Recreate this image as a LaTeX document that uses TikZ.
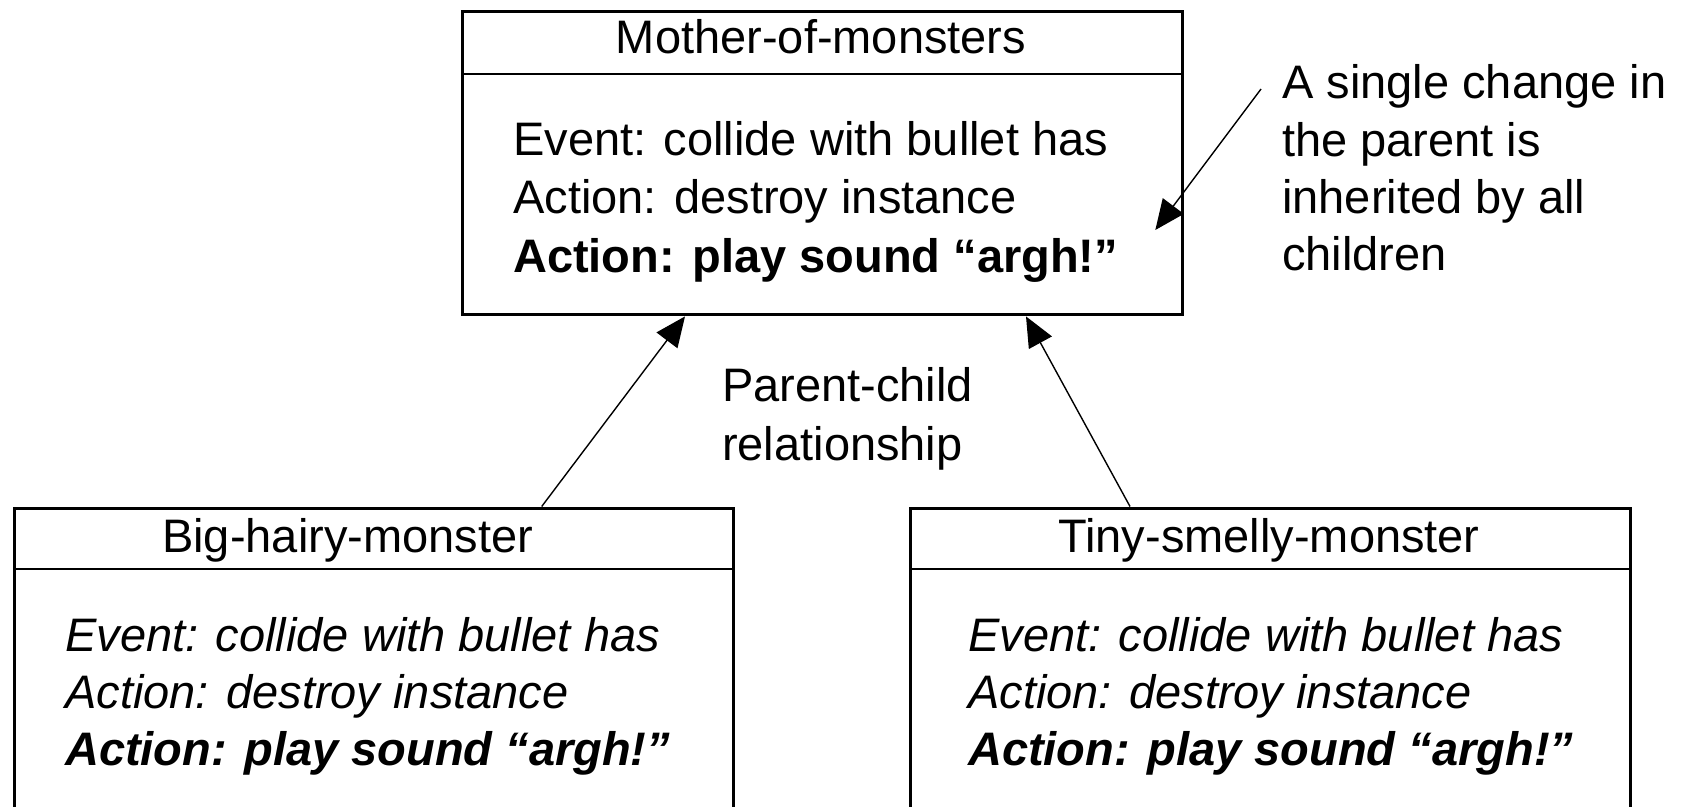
\documentclass[tikz,border=0pt]{standalone}
\usepackage{fontspec}
\setmainfont{Liberation Sans}
\usetikzlibrary{arrows.meta}
\begin{document}
\begin{tikzpicture}[x=1pt,y=-1pt,
  box/.style={draw,line width=3.4pt,inner sep=0pt,anchor=north west},
  divline/.style={line width=1.6pt},
  txt/.style={inner sep=0pt,anchor=base west,font=\fontsize{47}{57.5}\selectfont},
  ttl/.style={inner sep=0pt,anchor=base,font=\fontsize{47}{57.5}\selectfont},
  conn/.style={line width=1.4pt,-{Triangle[length=30pt,width=26pt]}}
]
\useasboundingbox (0,0) rectangle (1688,806);
\clip (0,0) rectangle (1688,806);
\fill[white] (0,0) rectangle (1688,806);

% boxes
\node[box,minimum width=720pt,minimum height=303pt] (mom) at (461,10) {};
\node[box,minimum width=719pt,minimum height=330pt] (big) at (13,506.5) {};
\node[box,minimum width=720pt,minimum height=330pt] (tiny) at (909,506.5) {};

% dividers
\draw[divline] (mom.west |- 0,74) -- (mom.east |- 0,74);
\draw[divline] (big.west |- 0,569) -- (big.east |- 0,569);
\draw[divline] (tiny.west |- 0,569) -- (tiny.east |- 0,569);

% titles
\node[ttl] (momt) at (821,53) {Mother-of-monsters};
\node[txt] (bigt) at (162,552) {Big-hairy-monster};
\node[ttl] (tinyt) at (1269,552) {Tiny-smelly-monster};

% parent body
\node[txt] (m1) at (513,155) {Event: collide with bullet has};
\node[txt] (m2) at (513,213) {Action: destroy instance};
\node[txt,font=\fontsize{47}{57.5}\selectfont\bfseries] (m3) at (513,272) {Action: play sound “argh!”};

% big body
\node[txt,font=\fontsize{47}{57.5}\selectfont\itshape] (b1) at (65,651.7) {Event: collide with bullet has};
\node[txt,font=\fontsize{47}{57.5}\selectfont\itshape] (b2) at (65,708) {Action: destroy instance};
\node[txt,font=\fontsize{47}{57.5}\selectfont\bfseries\itshape] (b3) at (65,765) {Action: play sound “argh!”};

% tiny body
\node[txt,font=\fontsize{47}{57.5}\selectfont\itshape] (t1) at (968,651.7) {Event: collide with bullet has};
\node[txt,font=\fontsize{47}{57.5}\selectfont\itshape] (t2) at (968,708) {Action: destroy instance};
\node[txt,font=\fontsize{47}{57.5}\selectfont\bfseries\itshape] (t3) at (968,765) {Action: play sound “argh!”};

% relationship label
\node[txt] (pc1) at (722,401.7) {Parent-child};
\node[txt] (pc2) at (722,460) {relationship};

% annotation
\node[txt] (a1) at (1282,98) {A single change in};
\node[txt] (a2) at (1282,156) {the parent is};
\node[txt] (a3) at (1282,213) {inherited by all};
\node[txt] (a4) at (1282,270) {children};

% connectors
\draw[conn] ([xshift=528.7pt]big.north west) -- ([xshift=224pt]mom.south west);
\draw[conn] ([xshift=221pt]tiny.north west) -- ([xshift=565pt]mom.south west);
\draw[conn] ([shift={(-21,-9)}]a1.base west) -- ([shift={(37,-42)}]m3.base east);
\end{tikzpicture}
\end{document}
